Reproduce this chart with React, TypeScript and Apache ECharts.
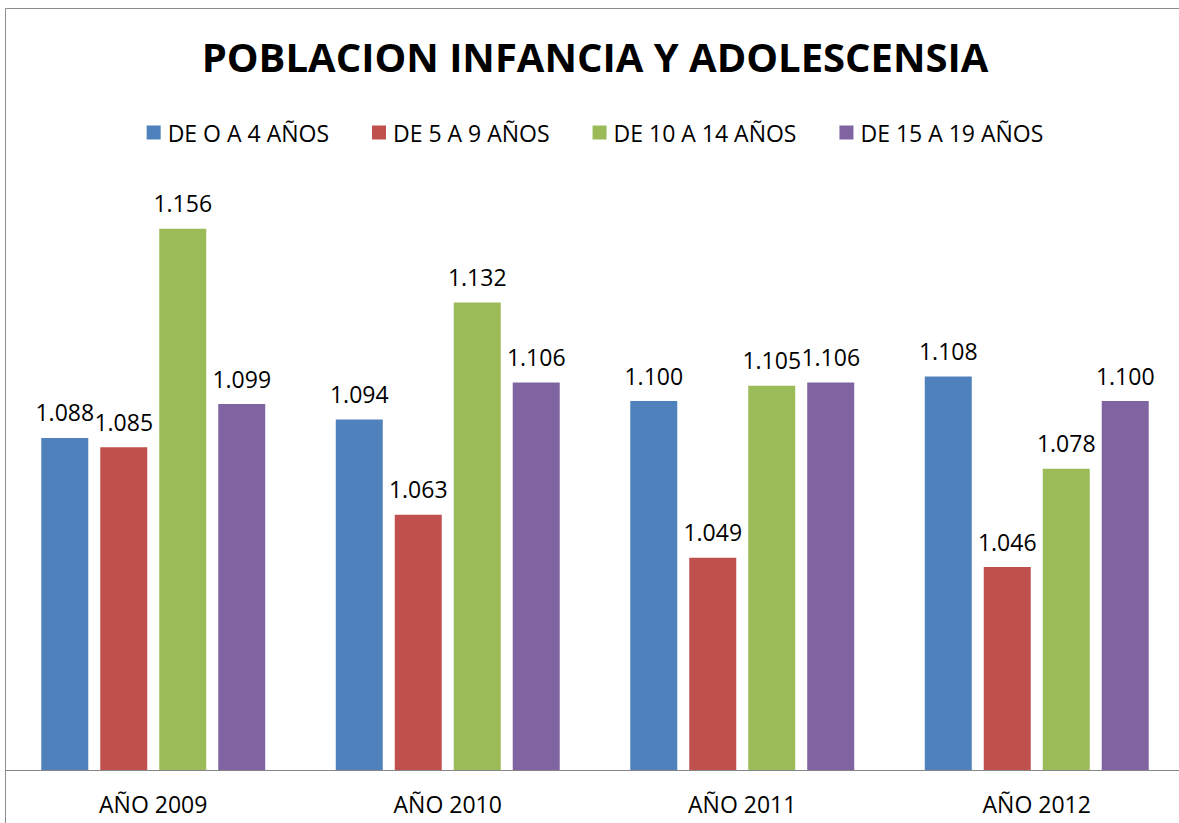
import React, { useEffect, useRef } from "react";
import * as echarts from "echarts";

const categories = ["AÑO 2009", "AÑO 2010", "AÑO 2011", "AÑO 2012"];
const seriesNames = ["DE O A 4 AÑOS", "DE 5 A 9 AÑOS", "DE 10 A 14 AÑOS", "DE 15 A 19 AÑOS"];
const age0to4 = [1088, 1094, 1100, 1108];
const age5to9 = [1085, 1063, 1049, 1046];
const age10to14 = [1156, 1132, 1105, 1078];
const age15to19 = [1099, 1106, 1106, 1100];
const colors = ["#4F81BD", "#C0504D", "#9BBB59", "#8064A2"];

const FONT = "'Open Sans', sans-serif";

export default function App() {
  const ref = useRef<HTMLDivElement>(null);
  useEffect(() => {
    if (!ref.current) return;
    const chart = echarts.init(ref.current, null, { renderer: "svg" });
    const values = [age0to4, age5to9, age10to14, age15to19];
    const fmt = (p: any) => {
      const v = Number(p.value);
      const th = Math.floor(v / 1000);
      const rest = String(v % 1000).padStart(3, "0");
      return th > 0 ? `${th}.${rest}` : String(v);
    };
    chart.setOption({
      animation: false,
      backgroundColor: "#ffffff",
      title: {
        text: "POBLACION INFANCIA Y ADOLESCENSIA",
        left: "center",
        top: 31,
        textStyle: { fontFamily: FONT, fontWeight: "bold", fontSize: 40, color: "#000" },
      },
      legend: {
        top: 116,
        left: "center",
        itemWidth: 14,
        itemHeight: 14,
        itemGap: 43,
        icon: "rect",
        textStyle: { fontFamily: FONT, fontSize: 23, color: "#000", padding: [0, 0, 0, 2] },
        data: seriesNames,
      },
      grid: { left: 6, right: 6, top: 155, bottom: 60, containLabel: false },
      xAxis: {
        type: "category",
        data: categories,
        axisLine: { show: true, lineStyle: { color: "#868686", width: 1 } },
        axisTick: { show: false },
        axisLabel: { fontFamily: FONT, fontSize: 23, color: "#000", margin: 22 },
      },
      yAxis: {
        type: "value",
        min: 980,
        max: 1180,
        show: false,
        splitLine: { show: false },
      },
      graphic: [
        {
          type: "rect",
          shape: { x: 5.5, y: 8.5, width: 1400, height: 1000 },
          style: { fill: "none", stroke: "#8c8c8c", lineWidth: 1 },
          silent: true,
          z: 100,
        },
      ],
      series: seriesNames.map((name, i) => ({
        name,
        type: "bar",
        data: values[i],
        barWidth: 47,
        barGap: "25.5%",
        itemStyle: { color: colors[i] },
        label: {
          show: true,
          position: "top",
          distance: 14,
          formatter: fmt,
          fontFamily: FONT,
          fontSize: 23,
          color: "#000",
        },
      })),
    });
    return () => chart.dispose();
  }, []);
  return (
    <div
      ref={ref}
      style={{ position: "fixed", left: 0, top: 0, width: 1190, height: 830, background: "#fff" }}
    />
  );
}
